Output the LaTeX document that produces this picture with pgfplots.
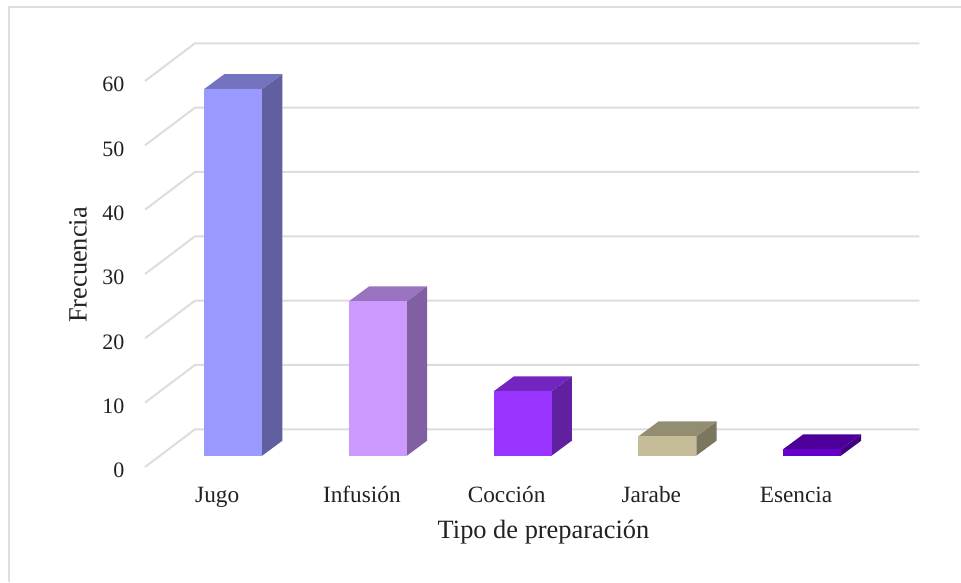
\documentclass[border=0pt]{standalone}
\usepackage{pgfplots}
\pgfplotsset{compat=1.18}
\usepackage{fontspec}
\setmainfont{Liberation Serif}
\definecolor{gridc}{HTML}{DDDDDD}
\definecolor{txt}{HTML}{222222}
\definecolor{aF}{HTML}{9999FF}\definecolor{aT}{HTML}{7373BF}\definecolor{aS}{HTML}{6060A0}
\definecolor{bF}{HTML}{CC99FF}\definecolor{bT}{HTML}{9973BF}\definecolor{bS}{HTML}{8060A0}
\definecolor{cF}{HTML}{9933FF}\definecolor{cT}{HTML}{7326BF}\definecolor{cS}{HTML}{6020A0}
\definecolor{dF}{HTML}{C4BD97}\definecolor{dT}{HTML}{938E71}\definecolor{dS}{HTML}{7B765E}
\definecolor{eF}{HTML}{6600CC}\definecolor{eT}{HTML}{4C0099}\definecolor{eS}{HTML}{400080}
\begin{document}
\begin{tikzpicture}[x=1pt,y=1pt]
\useasboundingbox (0,0) rectangle (961,582);
\fill[white] (0,0) rectangle (961,582);
% outer chart frame
\draw[gridc,line width=2pt] (9,0) -- (9,575) -- (961,575);
\begin{axis}[
  at={(145pt,115pt)},
  anchor=south west,
  scale only axis, width=774.3pt, height=424pt,
  xmin=-0.6095, xmax=4.7415, ymin=-1.757, ymax=64.15,
  clip=false,
  axis line style={draw=none},
  major tick length=0pt,
  xtick={0,1,2,3,4},
  xticklabels={Jugo,Infusión,Cocción,Jarabe,Esencia},
  ytick={0,10,20,30,40,50,60},
  /pgf/number format/assume math mode=true,
  xticklabel style={font=\fontsize{23.3}{25}\selectfont, text=txt, anchor=base, xshift=-16pt, yshift=-35pt},
  yticklabel style={font=\fontsize{22}{24}\selectfont, text=txt, anchor=east, xshift=-17pt, yshift=-14.8pt},
  xlabel={Tipo de preparación},
  ylabel={Frecuencia},
  xlabel style={font=\fontsize{26.4}{28}\selectfont, text=txt, at={(axis description cs:0.5147,-0.1545)}, anchor=center},
  ylabel style={font=\fontsize{26.4}{28}\selectfont, text=txt, at={(axis description cs:-0.0865,0.4764)}, anchor=center, rotate=0},
]
% floor and wall gridlines
\addplot[gridc,line width=2pt] coordinates {(-0.6095,-1.757)(-0.264,4.104)(4.7415,4.104)};
\addplot[gridc,line width=2pt] coordinates {(-0.6095,8.243)(-0.264,14.104)(4.7415,14.104)};
\addplot[gridc,line width=2pt] coordinates {(-0.6095,18.243)(-0.264,24.104)(4.7415,24.104)};
\addplot[gridc,line width=2pt] coordinates {(-0.6095,28.243)(-0.264,34.104)(4.7415,34.104)};
\addplot[gridc,line width=2pt] coordinates {(-0.6095,38.243)(-0.264,44.104)(4.7415,44.104)};
\addplot[gridc,line width=2pt] coordinates {(-0.6095,48.243)(-0.264,54.104)(4.7415,54.104)};
\addplot[gridc,line width=2pt] coordinates {(-0.6095,58.243)(-0.264,64.104)(4.7415,64.104)};
% Jugo = 57
\addplot[fill=aS,draw=none] coordinates {(0.2,0)(0.34,2.33)(0.34,59.33)(0.2,57)} --cycle;
\addplot[fill=aT,draw=none] coordinates {(-0.2,57)(0.2,57)(0.34,59.33)(-0.06,59.33)} --cycle;
\addplot[fill=aF,draw=none] coordinates {(-0.2,0)(0.2,0)(0.2,57)(-0.2,57)} --cycle;
% Infusión = 24
\addplot[fill=bS,draw=none] coordinates {(1.2,0)(1.34,2.33)(1.34,26.33)(1.2,24)} --cycle;
\addplot[fill=bT,draw=none] coordinates {(0.8,24)(1.2,24)(1.34,26.33)(0.94,26.33)} --cycle;
\addplot[fill=bF,draw=none] coordinates {(0.8,0)(1.2,0)(1.2,24)(0.8,24)} --cycle;
% Cocción = 10
\addplot[fill=cS,draw=none] coordinates {(2.2,0)(2.34,2.33)(2.34,12.33)(2.2,10)} --cycle;
\addplot[fill=cT,draw=none] coordinates {(1.8,10)(2.2,10)(2.34,12.33)(1.94,12.33)} --cycle;
\addplot[fill=cF,draw=none] coordinates {(1.8,0)(2.2,0)(2.2,10)(1.8,10)} --cycle;
% Jarabe = 3
\addplot[fill=dS,draw=none] coordinates {(3.2,0)(3.34,2.33)(3.34,5.33)(3.2,3)} --cycle;
\addplot[fill=dT,draw=none] coordinates {(2.8,3)(3.2,3)(3.34,5.33)(2.94,5.33)} --cycle;
\addplot[fill=dF,draw=none] coordinates {(2.8,0)(3.2,0)(3.2,3)(2.8,3)} --cycle;
% Esencia = 1
\addplot[fill=eS,draw=none] coordinates {(4.2,0)(4.34,2.33)(4.34,3.33)(4.2,1)} --cycle;
\addplot[fill=eT,draw=none] coordinates {(3.8,1)(4.2,1)(4.34,3.33)(3.94,3.33)} --cycle;
\addplot[fill=eF,draw=none] coordinates {(3.8,0)(4.2,0)(4.2,1)(3.8,1)} --cycle;
\end{axis}
\end{tikzpicture}
\end{document}
